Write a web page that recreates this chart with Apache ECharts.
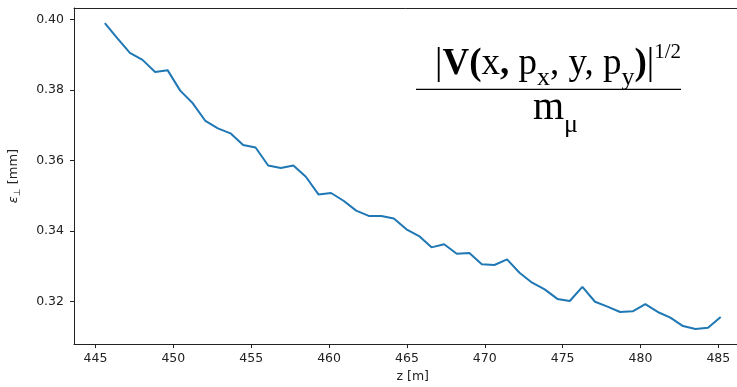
<!DOCTYPE html>
<html><head><meta charset="utf-8">
<script src="https://cdn.jsdelivr.net/npm/echarts@6/dist/echarts.min.js"></script>
<style>html,body{margin:0;padding:0;background:#fff}#c{width:737px;height:387px}</style>
</head><body><div id="c"></div>
<script>
const zPositions = [445.60, 446.41, 447.21, 448.02, 448.83, 449.63, 450.44, 451.25, 452.06, 452.86,
  453.67, 454.48, 455.28, 456.09, 456.90, 457.71, 458.51, 459.32, 460.13, 460.93,
  461.74, 462.55, 463.36, 464.16, 464.97, 465.78, 466.58, 467.39, 468.20, 469.01,
  469.81, 470.62, 471.43, 472.23, 473.04, 473.85, 474.66, 475.46, 476.27, 477.08,
  477.88, 478.69, 479.50, 480.31, 481.11, 481.92, 482.73, 483.53, 484.34, 485.15];
const emittance = [0.3989, 0.3946, 0.3905, 0.3885, 0.3851, 0.3856, 0.3798, 0.3762, 0.3712, 0.3691,
  0.3677, 0.3644, 0.3637, 0.3586, 0.3579, 0.3586, 0.3554, 0.3504, 0.3508, 0.3486,
  0.3458, 0.3443, 0.3443, 0.3436, 0.3405, 0.3386, 0.3354, 0.3363, 0.3336, 0.3338,
  0.3306, 0.3304, 0.3320, 0.3282, 0.3254, 0.3235, 0.3208, 0.3202, 0.3242, 0.3200,
  0.3186, 0.3171, 0.3173, 0.3193, 0.3171, 0.3155, 0.3131, 0.3123, 0.3126, 0.3157];
const xTicks = [445, 450, 455, 460, 465, 470, 475, 480, 485];
const yTicks = [0.32, 0.34, 0.36, 0.38, 0.40];

const chart = echarts.init(document.getElementById('c'), null, {renderer: 'canvas'});
const axisColor = '#222';
const tickFont = {fontFamily: 'DejaVu Sans', fontSize: 12.5, color: '#222'};
const serif = 'Liberation Serif';
chart.setOption({
  animation: false,
  backgroundColor: '#fff',
  grid: {left: 74, top: 8, width: 677.5, height: 336.1, containLabel: false, outerBoundsMode: 'none'},
  xAxis: [{
    type: 'value', min: 443.62, max: 487.13,
    name: 'z [m]', nameLocation: 'middle', nameGap: 25,
    nameTextStyle: {fontFamily: 'DejaVu Sans', fontSize: 12.5, color: '#222'},
    axisLine: {show: true, onZero: false, lineStyle: {color: axisColor, width: 1}},
    axisTick: {show: true, length: 4, customValues: xTicks, lineStyle: {color: axisColor, width: 1}},
    axisLabel: Object.assign({customValues: xTicks, margin: 8, formatter: v => String(Math.round(v))}, tickFont),
    splitLine: {show: false}
  }, {
    type: 'value', position: 'top', min: 443.62, max: 487.13,
    axisLine: {show: true, onZero: false, lineStyle: {color: axisColor, width: 1}},
    axisTick: {show: false}, axisLabel: {show: false}, splitLine: {show: false}
  }],
  yAxis: [{
    type: 'value', min: 0.308, max: 0.4032,
    name: '{e|ε}{s|⊥} [mm]', nameLocation: 'middle', nameGap: 52, nameRotate: 90,
    nameTextStyle: {fontFamily: 'DejaVu Sans', fontSize: 13, color: '#222', lineHeight: 16,
      rich: {
        e: {fontFamily: 'DejaVu Sans', fontStyle: 'italic', fontSize: 13, lineHeight: 16, color: '#222'},
        s: {fontFamily: 'DejaVu Sans', fontSize: 9, lineHeight: 8, verticalAlign: 'bottom', color: '#222'}
      }},
    axisLine: {show: true, onZero: false, lineStyle: {color: axisColor, width: 1}},
    axisTick: {show: true, length: 4, customValues: yTicks, lineStyle: {color: axisColor, width: 1}},
    axisLabel: Object.assign({customValues: yTicks, margin: 10, formatter: v => v.toFixed(2)}, tickFont),
    splitLine: {show: false}
  }, {
    type: 'value', position: 'right', min: 0.308, max: 0.4032,
    axisLine: {show: true, onZero: false, lineStyle: {color: axisColor, width: 1}},
    axisTick: {show: false}, axisLabel: {show: false}, splitLine: {show: false}
  }],
  series: [{
    type: 'line',
    data: zPositions.map((z, i) => [z, emittance[i]]),
    showSymbol: false,
    lineStyle: {color: '#1f77b4', width: 2},
    itemStyle: {color: '#1f77b4'}
  }],
  graphic: [
    {
      type: 'text', x: 435, y: 34, silent: true,
      style: {
        text: '{m||}{vb|V(}{m|x}{mb|,}{m| p}{sub|x}{m|, y, p}{sub|y}{mb|)}{m||}{sup|1/2}',
        align: 'left', verticalAlign: 'top',
        rich: {
          m: {fontFamily: serif, fontSize: 37, lineHeight: 60, verticalAlign: 'middle', fill: '#000'},
          vb: {fontFamily: serif, fontSize: 37, fontWeight: 'bold', lineHeight: 60, verticalAlign: 'middle', fill: '#000'},
          mb: {fontFamily: serif, fontSize: 37, fontWeight: 'bold', lineHeight: 60, verticalAlign: 'middle', fill: '#000'},
          sub: {fontFamily: serif, fontSize: 26, verticalAlign: 'bottom', padding: [0, 0, 3, 0], fill: '#000'},
          sup: {fontFamily: serif, fontSize: 21, verticalAlign: 'top', padding: [8, 0, 0, 0], fill: '#000'}
        }
      }
    },
    {
      type: 'line', silent: true,
      shape: {x1: 416, y1: 89.3, x2: 681, y2: 89.3},
      style: {stroke: '#000', lineWidth: 1.3}
    },
    {
      type: 'text', x: 533, y: 78, silent: true,
      style: {
        text: '{m|m}{sub|μ}',
        align: 'left', verticalAlign: 'top',
        rich: {
          m: {fontFamily: serif, fontSize: 40, lineHeight: 60, verticalAlign: 'middle', fill: '#000'},
          sub: {fontFamily: serif, fontSize: 26, verticalAlign: 'bottom', fill: '#000'}
        }
      }
    }
  ]
});
</script>
</body></html>
